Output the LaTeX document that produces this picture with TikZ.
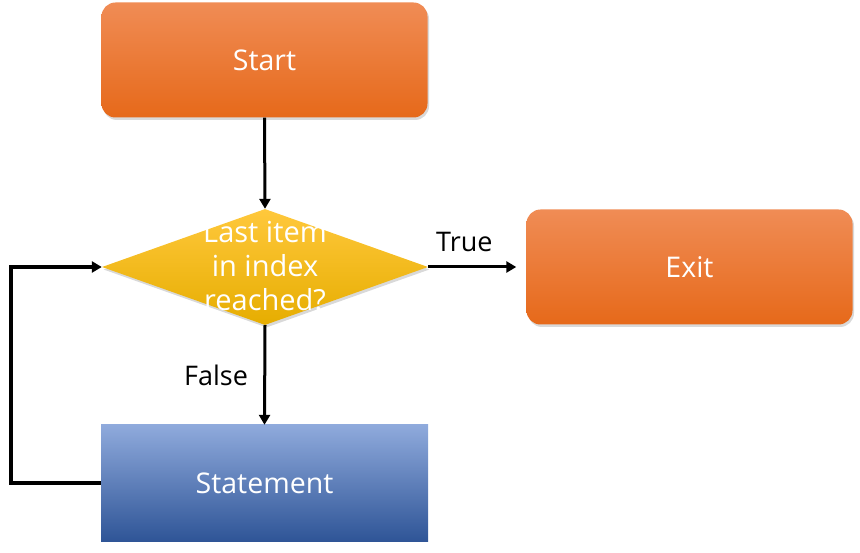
\documentclass[tikz,border=0pt]{standalone}
\usepackage{fontspec}
\setmainfont{Open Sans}
\usetikzlibrary{shapes.geometric,shadows,arrows.meta}
\definecolor{orT}{HTML}{F08C55}
\definecolor{orM}{HTML}{F57D28}
\definecolor{orB}{HTML}{E6691A}
\definecolor{yeT}{HTML}{FFC83C}
\definecolor{yeM}{HTML}{FFC000}
\definecolor{yeB}{HTML}{E6AD00}
\definecolor{blT}{HTML}{8FAADC}
\definecolor{blM}{HTML}{4472C4}
\definecolor{blB}{HTML}{2F5597}
\begin{document}
\begin{tikzpicture}[x=1pt,y=-1pt,
  shadowed/.style={drop shadow={opacity=0.3,shadow xshift=1.5pt,shadow yshift=-2.5pt}},
  orangebox/.style={rectangle, rounded corners=14pt, minimum width=326pt, minimum height=115pt,
    top color=orT, middle color=orM, bottom color=orB, shadowed,
    text=white, font=\fontsize{28.5}{33}\selectfont},
  bluebox/.style={rectangle, minimum width=327pt, minimum height=116pt,
    top color=blT, middle color=blM, bottom color=blB,
    text=white, font=\fontsize{28.5}{33}\selectfont},
  decision/.style={diamond, minimum width=326pt, minimum height=116pt, inner sep=0pt,
    top color=yeT, middle color=yeM, bottom color=yeB, shadowed},
  flow/.style={line width=3pt, -{Triangle[length=10pt,width=11pt]}},
  lbl/.style={text=black, font=\fontsize{27}{32}\selectfont}
]
\useasboundingbox (0,0) rectangle (860,553);
\node[orangebox] (start) at (264.5,60) {Start};
\node[decision] (dec) at (265,267) {};
\node[text=white, align=center, font=\fontsize{29}{34}\selectfont] (dectext) at (265,266) {Last item\\in index\\reached?};
\node[orangebox] (exit) at (689.5,267) {Exit};
\node[bluebox] (stmt) at (264.5,483) {Statement};
\coordinate (loopx) at (11,375);

\draw[flow] (start.south) -- (dec.north);
\draw[flow] (dec.east) -- ([xshift=-10pt]exit.west) node[lbl, pos=0.41, above=10pt] (truelbl) {True};
\draw[flow] (dec.south) -- (stmt.north) node[lbl, midway, left=12pt] (falselbl) {False};
\draw[line width=3.5pt, -{Triangle[length=10pt,width=11pt]}] (stmt.west) -- (stmt.west -| loopx) -- (dec.west -| loopx) -- (dec.west);
\end{tikzpicture}
\end{document}
